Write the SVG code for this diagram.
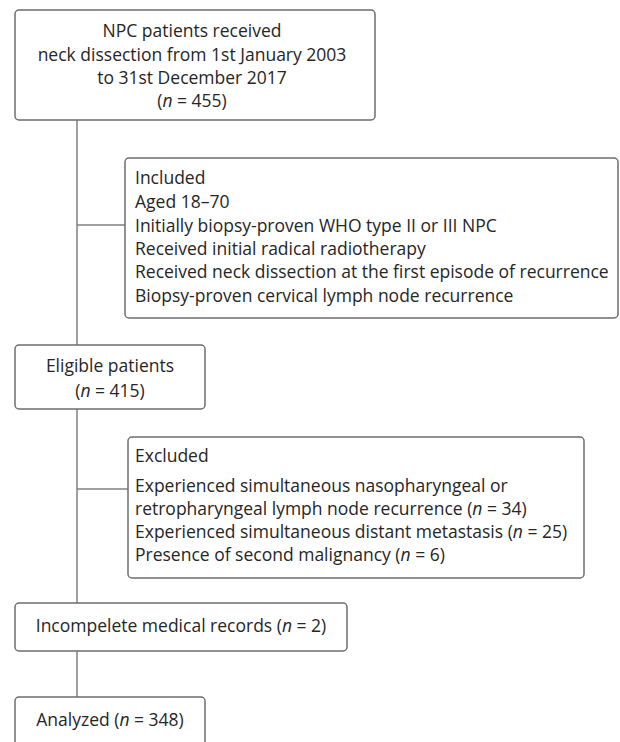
<svg xmlns="http://www.w3.org/2000/svg" width="620" height="742" viewBox="0 0 620 742">
<style>
.box{fill:#fff;stroke:#6e6e6e;stroke-width:1.5}
.ln{stroke:#808080;stroke-width:1.5;fill:none}
text{font-family:"Open Sans","Noto Sans","DejaVu Sans",sans-serif;font-size:17.5px;fill:#262626}
.c{text-anchor:middle}
</style>
<rect width="620" height="742" fill="#fff"/>
<g id="connectors">
<line class="ln" x1="77" y1="120" x2="77" y2="345"/>
<line class="ln" x1="77" y1="225" x2="125" y2="225"/>
<line class="ln" x1="77" y1="409" x2="77" y2="603"/>
<line class="ln" x1="77" y1="489" x2="128" y2="489"/>
<line class="ln" x1="77" y1="651" x2="77" y2="697"/>
</g>
<g id="start">
<rect class="box" x="15" y="10" width="360" height="110" rx="4"/>
<text class="c" x="192" y="37">NPC patients received</text>
<text class="c" x="192" y="61">neck dissection from 1st January 2003</text>
<text class="c" x="192" y="84">to 31st December 2017</text>
<text class="c" x="192" y="107">(<tspan font-style="italic">n</tspan> = 455)</text>
</g>
<g id="included">
<rect class="box" x="125" y="158" width="493" height="160" rx="4"/>
<text x="135" y="184">Included</text>
<text x="135" y="208">Aged 18–70</text>
<text x="135" y="232">Initially biopsy-proven WHO type II or III NPC</text>
<text x="135" y="255">Received initial radical radiotherapy</text>
<text x="135" y="278">Received neck dissection at the first episode of recurrence</text>
<text x="135" y="302">Biopsy-proven cervical lymph node recurrence</text>
</g>
<g id="eligible">
<rect class="box" x="15" y="345" width="190" height="64" rx="4"/>
<text class="c" x="110" y="372">Eligible patients</text>
<text class="c" x="110" y="397">(<tspan font-style="italic">n</tspan> = 415)</text>
</g>
<g id="excluded">
<rect class="box" x="128" y="437" width="456" height="141" rx="4"/>
<text x="135" y="462">Excluded</text>
<text x="135" y="492">Experienced simultaneous nasopharyngeal or</text>
<text x="135" y="515">retropharyngeal lymph node recurrence (<tspan font-style="italic">n</tspan> = 34)</text>
<text x="135" y="538">Experienced simultaneous distant metastasis (<tspan font-style="italic">n</tspan> = 25)</text>
<text x="135" y="561">Presence of second malignancy (<tspan font-style="italic">n</tspan> = 6)</text>
</g>
<g id="incomplete">
<rect class="box" x="15" y="603" width="332" height="48" rx="4"/>
<text class="c" x="181" y="632">Incompelete medical records (<tspan font-style="italic">n</tspan> = 2)</text>
</g>
<g id="analyzed">
<rect class="box" x="15" y="697" width="190" height="60" rx="4"/>
<text class="c" x="110" y="726">Analyzed (<tspan font-style="italic">n</tspan> = 348)</text>
</g>
</svg>
